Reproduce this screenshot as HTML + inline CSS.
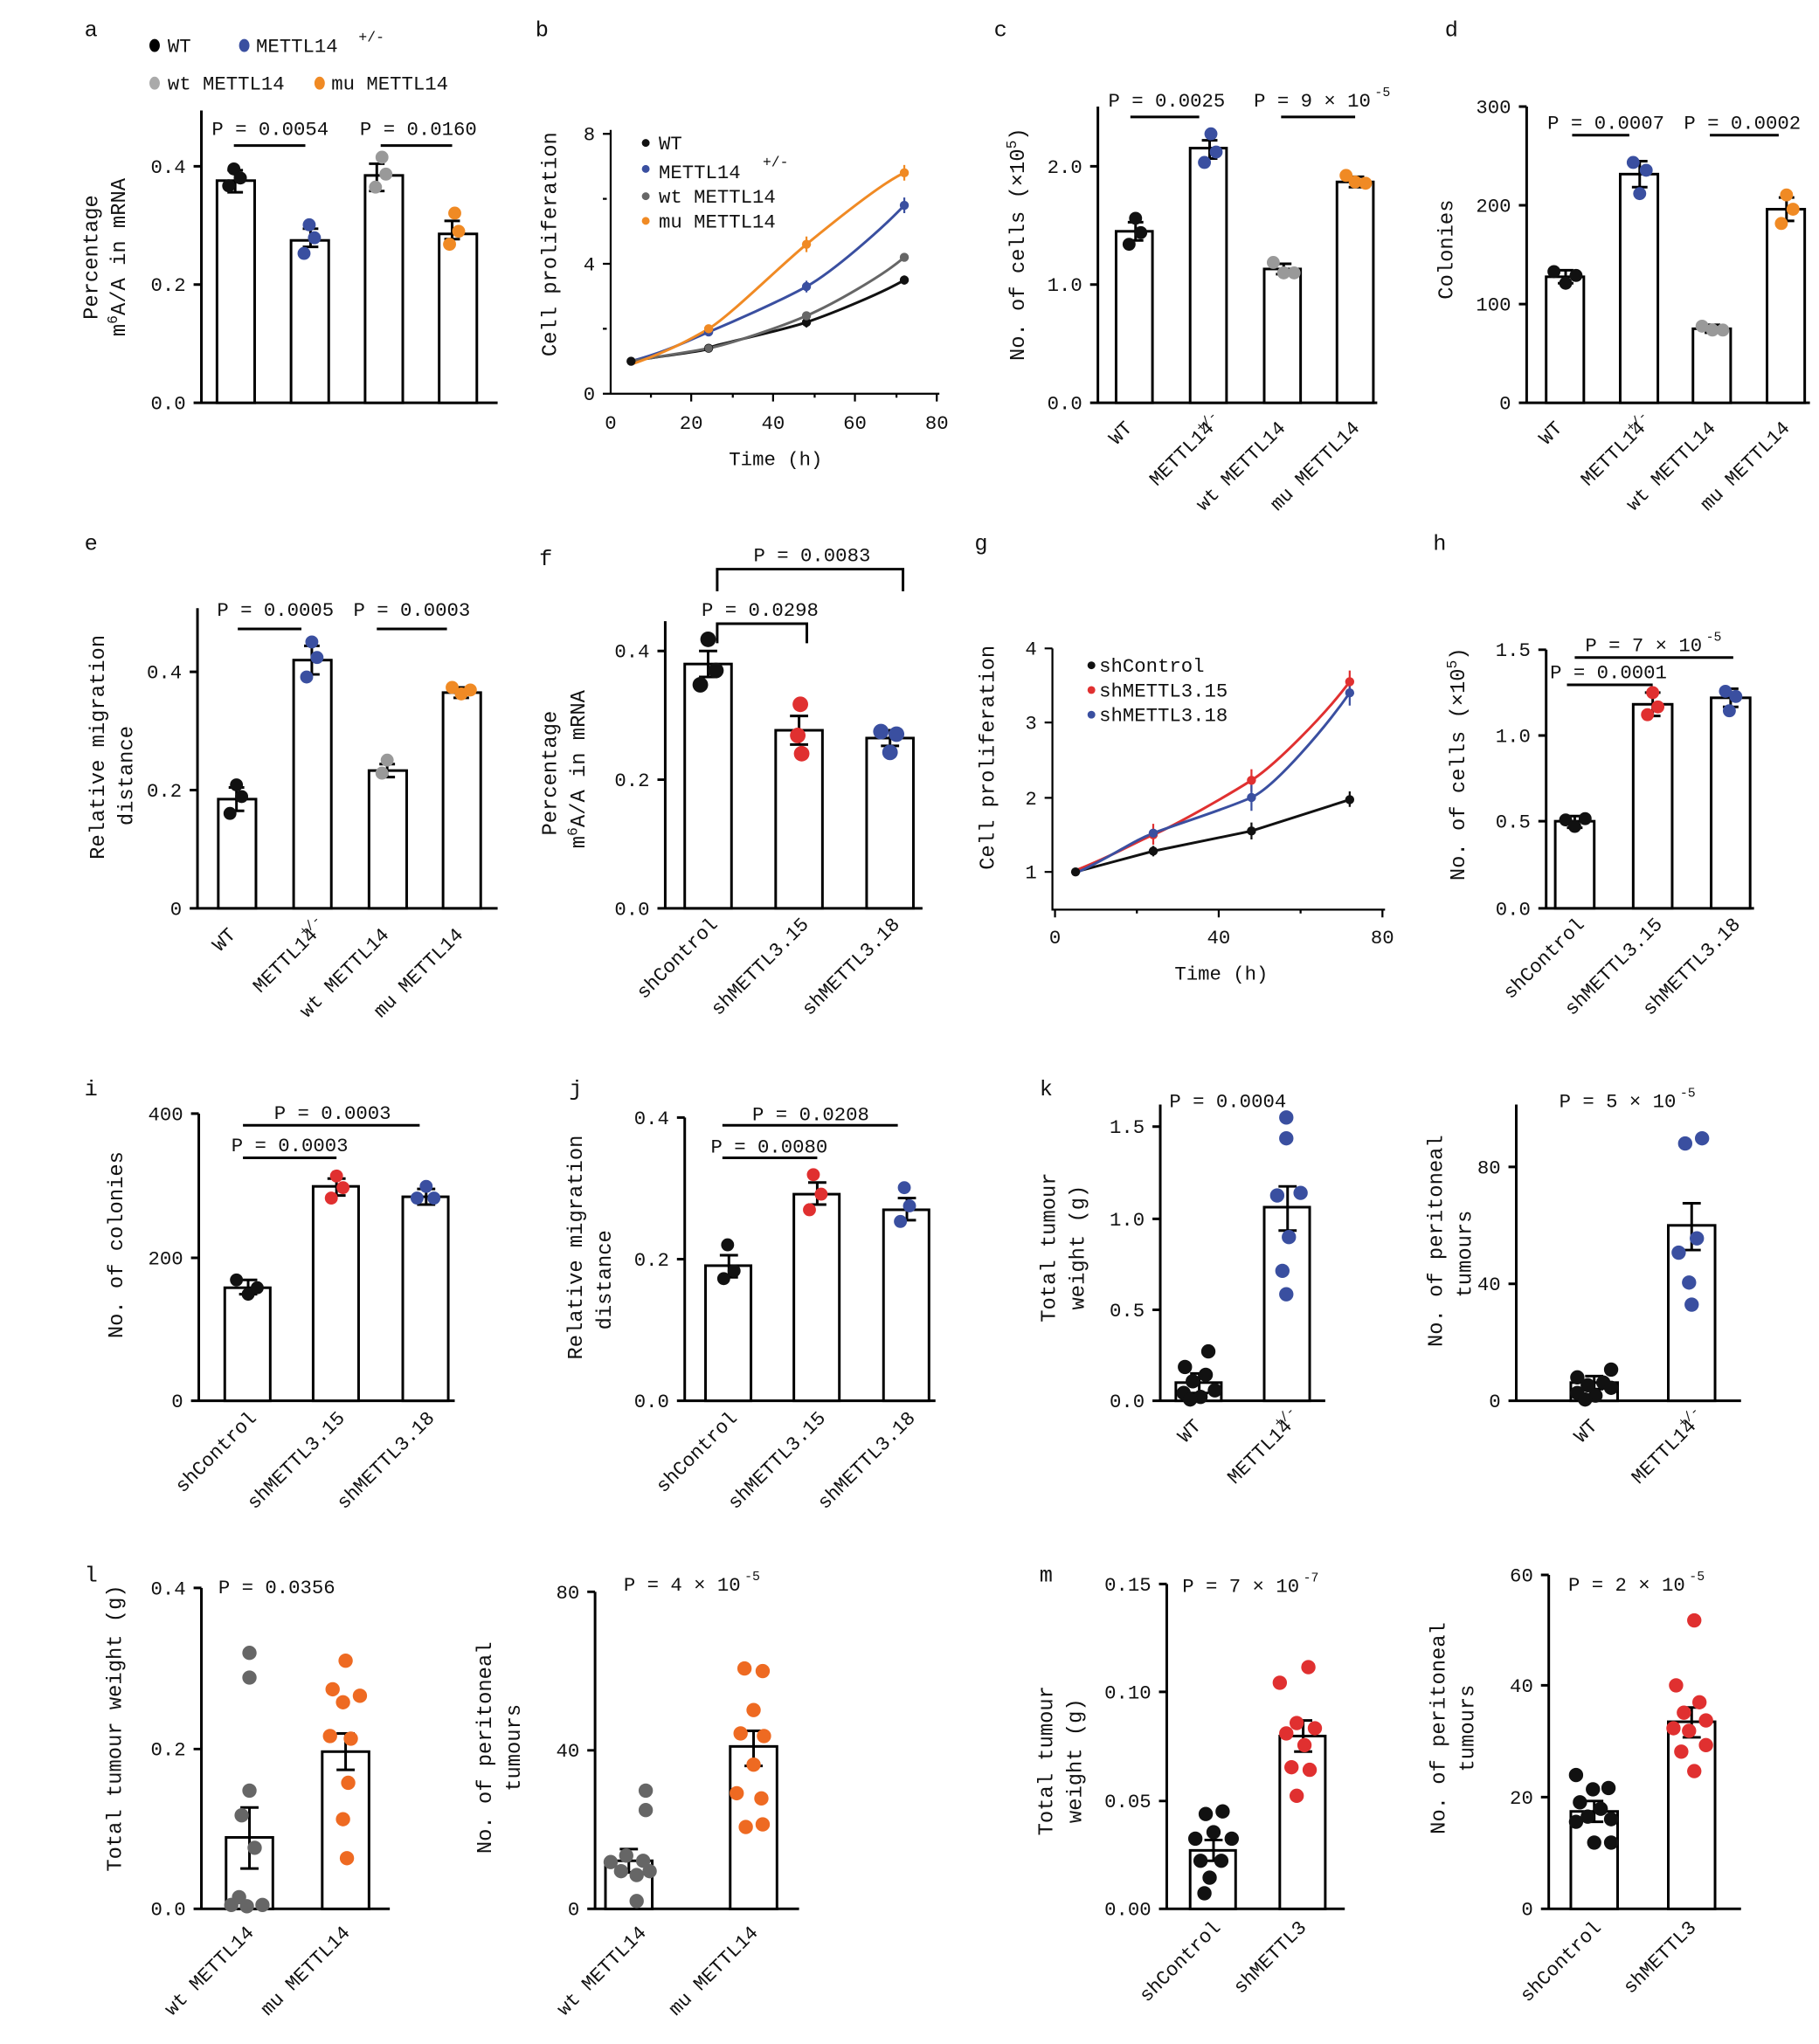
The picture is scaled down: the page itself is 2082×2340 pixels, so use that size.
<!DOCTYPE html>
<html><head><meta charset="utf-8"><style>
html,body{margin:0;padding:0;background:#fff;}
svg{display:block;}
text{font-family:"Liberation Mono","Noto Serif CJK SC",monospace;fill:#111;}
</style></head><body>
<svg width="2082" height="2340" viewBox="0 0 1400 1573" preserveAspectRatio="none" xmlns="http://www.w3.org/2000/svg">
<rect width="1400" height="1573" fill="#fff"/>
<g font-size="17">
<text x="65" y="28">a</text><text x="412" y="28">b</text><text x="765" y="28">c</text><text x="1112" y="28">d</text>
<text x="65" y="423">e</text><text x="415" y="435">f</text><text x="750" y="423">g</text><text x="1103" y="423">h</text>
<text x="65" y="843">i</text><text x="438" y="843">j</text><text x="800" y="843">k</text>
<text x="65" y="1217">l</text><text x="800" y="1217">m</text>
</g>
<g stroke="#000" stroke-width="2" fill="none">
<!-- a -->
<path d="M155,85V310M149,310H383M149,128h6M149,219h6"/>
<rect x="167" y="139" width="29" height="171" fill="#fff"/><rect x="224" y="185" width="29" height="125" fill="#fff"/>
<rect x="281" y="135" width="29" height="175" fill="#fff"/><rect x="338" y="180" width="29" height="130" fill="#fff"/>
<path d="M175,131h12M181,131v17M175,148h12 M233,176h12M239,176v14M233,190h12 M284,126h12M290,126v21M284,147h12 M342,170h12M348,170v14M342,184h12"/>
<path d="M180,112h55M293,112h55"/>
<!-- b -->
<path d="M470,100V303h253M464,103h6M464,203h6M464,303h6M532,303v6M595,303v6M658,303v6M721,303v6M501,303v3M564,303v3M627,303v3M690,303v3M464,153h3M464,253h3" stroke-width="1.5"/>
<!-- c -->
<path d="M845,82V310M839,310H1060M839,128h6M839,219h6"/>
<rect x="859" y="178" width="28" height="132" fill="#fff"/><rect x="916" y="114" width="28" height="196" fill="#fff"/>
<rect x="973" y="207" width="28" height="103" fill="#fff"/><rect x="1029" y="140" width="28" height="170" fill="#fff"/>
<path d="M868,171h12M874,171v14M868,185h12 M925,108h12M931,108v14M925,122h12 M982,203h12M988,203v8M982,211h12 M1038,136h12M1044,136v8M1038,144h12"/>
<path d="M870,90h53M986,90h57"/>
<!-- d -->
<path d="M1175,82V310M1169,310H1393M1169,82h6M1169,158h6M1169,234h6"/>
<rect x="1190" y="213" width="29" height="97" fill="#fff"/><rect x="1247" y="134" width="29" height="176" fill="#fff"/>
<rect x="1303" y="253" width="29" height="57" fill="#fff"/><rect x="1360" y="161" width="29" height="149" fill="#fff"/>
<path d="M1199,208h12M1205,208v10M1199,218h12 M1256,124h12M1262,124v20M1256,144h12 M1312,250h12M1318,250v6M1312,256h12 M1369,152h12M1375,152v18M1369,170h12"/>
<path d="M1210,104h44M1316,104h53"/>
<!-- e -->
<path d="M152,468V699M146,699H383M146,517h6M146,608h6"/>
<rect x="168" y="615" width="29" height="84" fill="#fff"/><rect x="226" y="508" width="29" height="191" fill="#fff"/>
<rect x="284" y="593" width="29" height="106" fill="#fff"/><rect x="341" y="533" width="29" height="166" fill="#fff"/>
<path d="M176,606h12M182,606v18M176,624h12 M234,497h12M240,497v22M234,519h12 M292,588h12M298,588v10M292,598h12 M349,529h12M355,529v8M349,537h12"/>
<path d="M183,484h49M290,484h54"/>
<!-- f -->
<path d="M512,478V699H710M506,501h6M506,600h6M506,699h6"/>
<rect x="527" y="511" width="36" height="188" fill="#fff"/><rect x="597" y="562" width="36" height="137" fill="#fff"/><rect x="667" y="568" width="36" height="131" fill="#fff"/>
<path d="M538,501h14M545,501v20M538,521h14 M608,551h14M615,551v22M608,573h14 M678,562h14M685,562v12M678,574h14"/>
<path d="M552,455V438H695V455M552,495V480H621V495"/>
<!-- g -->
<path d="M810,499V700H1066M804,499h6M804,556h6M804,614h6M804,671h6M812,700v6M938,700v6M1064,700v6M875,700v3M1001,700v3" stroke-width="1.5"/>
<!-- h -->
<path d="M1190,500V699H1350M1184,500h6M1184,566h6M1184,632h6M1184,699h6"/>
<rect x="1197" y="632" width="30" height="67" fill="#fff"/><rect x="1257" y="542" width="30" height="157" fill="#fff"/><rect x="1317" y="537" width="30" height="162" fill="#fff"/>
<path d="M1206,628h12M1212,628v9M1206,637h12 M1266,533h12M1272,533v18M1266,551h12 M1326,530h12M1332,530v14M1326,544h12"/>
<path d="M1212,506h122M1206,527h66"/>
<!-- i -->
<path d="M153,857V1078H350M147,857h6M147,968h6M147,1078h6"/>
<rect x="173" y="991" width="35" height="87" fill="#fff"/><rect x="241" y="913" width="35" height="165" fill="#fff"/><rect x="310" y="921" width="35" height="157" fill="#fff"/>
<path d="M184,985h14M191,985v11M184,996h14 M252,907h14M259,907v13M252,920h14 M321,915h14M328,915v12M321,927h14"/>
<path d="M187,866h136M187,891h72"/>
<!-- j -->
<path d="M527,860V1078H720M521,860h6M521,969h6M521,1078h6"/>
<rect x="543" y="974" width="35" height="104" fill="#fff"/><rect x="611" y="919" width="35" height="159" fill="#fff"/><rect x="680" y="931" width="35" height="147" fill="#fff"/>
<path d="M554,966h14M561,966v17M554,983h14 M622,910h14M629,910v17M622,927h14 M691,922h14M698,922v17M691,939h14"/>
<path d="M556,866h135M556,891h73"/>
<!-- k1 -->
<path d="M893,850V1078H1020M887,867h6M887,938h6M887,1008h6M887,1078h6"/>
<rect x="905" y="1064" width="35" height="14" fill="#fff"/><rect x="973" y="929" width="35" height="149" fill="#fff"/>
<path d="M916,1057h14M923,1057v15M916,1072h14 M984,913h14M991,913v34M984,947h14"/>
<!-- k2 -->
<path d="M1167,850V1078H1340M1161,898h6M1161,988h6M1161,1078h6"/>
<rect x="1209" y="1064" width="36" height="14" fill="#fff"/><rect x="1284" y="943" width="36" height="135" fill="#fff"/>
<path d="M1220,1059h14M1227,1059v10M1220,1069h14 M1295,926h14M1302,926v36M1295,962h14"/>
<!-- l1 -->
<path d="M155,1222V1469H300M149,1222h6M149,1346h6M149,1469h6"/>
<rect x="174" y="1414" width="36" height="55" fill="#fff"/><rect x="248" y="1348" width="36" height="121" fill="#fff"/>
<path d="M185,1391h14M192,1391v47M185,1438h14 M259,1334h14M266,1334v28M259,1362h14"/>
<!-- l2 -->
<path d="M458,1225V1469H615M452,1225h6M452,1347h6M452,1469h6"/>
<rect x="466" y="1432" width="36" height="37" fill="#fff"/><rect x="562" y="1344" width="36" height="125" fill="#fff"/>
<path d="M477,1423h14M484,1423v18M477,1441h14 M573,1332h14M580,1332v27M573,1359h14"/>
<!-- m1 -->
<path d="M898,1219V1469H1035M892,1219h6M892,1302h6M892,1386h6M892,1469h6"/>
<rect x="916" y="1424" width="35" height="45" fill="#fff"/><rect x="985" y="1336" width="35" height="133" fill="#fff"/>
<path d="M927,1416h14M934,1416v16M927,1432h14 M996,1324h14M1003,1324v24M996,1348h14"/>
<!-- m2 -->
<path d="M1192,1212V1469H1340M1186,1212h6M1186,1297h6M1186,1383h6M1186,1469h6"/>
<rect x="1209" y="1394" width="36" height="75" fill="#fff"/><rect x="1284" y="1325" width="36" height="144" fill="#fff"/>
<path d="M1220,1386h14M1227,1386v16M1220,1402h14 M1295,1314h14M1302,1314v23M1295,1337h14"/>
</g>
<!-- curves b -->
<g fill="none" stroke-width="2">
<path d="M485.7,278 C515,273 545,270 545.4,268 S600,255 620.7,248 S680,225 696,215.5" stroke="#111"/>
<path d="M485.7,278 C515,270 530,262 545.4,255.5 S600,232 620.7,220.5 S680,175 696,158" stroke="#3a4fa0"/>
<path d="M485.7,278 C515,273 530,271 545.4,268 S600,252 620.7,243 S680,212 696,198" stroke="#666"/>
<path d="M485.7,280.5 C515,270 530,262 545.4,253 S600,205 620.7,188 S680,140 696,133" stroke="#f08a24"/>
<path d="M827.8,671 L887.6,655 L963.2,639.5 L1038.8,615.4" stroke="#111"/>
<path d="M827.8,669.9 C860,657 870,650 887.6,642.4 S945,612 963.2,600.5 S1020,550 1038.8,524.6" stroke="#e03030"/>
<path d="M827.8,672 C860,657 870,648 887.6,641.2 S945,622 963.2,613.7 S1020,560 1038.8,533.2" stroke="#3a4fa0"/>
</g>
<g stroke-width="1.5" fill="none">
<path d="M620.7,244v8M696,212v7M545.4,265v6" stroke="#111"/>
<path d="M620.7,216v9M696,152v12" stroke="#3a4fa0"/>
<path d="M620.7,182v12M696,127v12" stroke="#f08a24"/>
<path d="M963.2,633v13M1038.8,609v12M887.6,651v8" stroke="#111"/>
<path d="M963.2,592v17M1038.8,516v17M887.6,634v16" stroke="#e03030"/>
<path d="M963.2,604v20M1038.8,523v20" stroke="#3a4fa0"/>
</g>
<g>
<g fill="#111"><circle cx="485.7" cy="278" r="3.5"/><circle cx="545.4" cy="268" r="3.5"/><circle cx="620.7" cy="248" r="3.5"/><circle cx="696" cy="215.5" r="3.5"/></g>
<g fill="#3a4fa0"><circle cx="545.4" cy="255.5" r="3.5"/><circle cx="620.7" cy="220.5" r="3.5"/><circle cx="696" cy="158" r="3.5"/></g>
<g fill="#666"><circle cx="545.4" cy="268" r="3"/><circle cx="620.7" cy="243" r="3.5"/><circle cx="696" cy="198" r="3.5"/></g>
<g fill="#f08a24"><circle cx="545.4" cy="253" r="3.5"/><circle cx="620.7" cy="188" r="3.5"/><circle cx="696" cy="133" r="3.5"/></g>
<g fill="#111"><circle cx="827.8" cy="671" r="3.5"/><circle cx="887.6" cy="655" r="3.5"/><circle cx="963.2" cy="639.5" r="3.5"/><circle cx="1038.8" cy="615.4" r="3.5"/></g>
<g fill="#e03030"><circle cx="887.6" cy="642.4" r="3.5"/><circle cx="963.2" cy="600.5" r="3.5"/><circle cx="1038.8" cy="524.6" r="3.5"/></g>
<g fill="#3a4fa0"><circle cx="887.6" cy="641.2" r="3.5"/><circle cx="963.2" cy="613.7" r="3.5"/><circle cx="1038.8" cy="533.2" r="3.5"/></g>
</g>
<!-- dots bar panels -->
<g>
<g fill="#111"><circle cx="180" cy="130" r="5"/><circle cx="176" cy="143" r="5"/><circle cx="185" cy="137" r="5"/></g>
<g fill="#3a4fa0"><circle cx="238" cy="173" r="5"/><circle cx="242" cy="183" r="5"/><circle cx="234" cy="195" r="5"/></g>
<g fill="#999"><circle cx="294" cy="121" r="5"/><circle cx="297" cy="134" r="5"/><circle cx="289" cy="144" r="5"/></g>
<g fill="#f08a24"><circle cx="350" cy="164" r="5"/><circle cx="353" cy="178" r="5"/><circle cx="346" cy="188" r="5"/></g>
<g fill="#111"><circle cx="874" cy="168" r="5"/><circle cx="869" cy="188" r="5"/><circle cx="878" cy="179" r="5"/></g>
<g fill="#3a4fa0"><circle cx="932" cy="103" r="5"/><circle cx="936" cy="117" r="5"/><circle cx="927" cy="125" r="5"/></g>
<g fill="#999"><circle cx="980" cy="202" r="5"/><circle cx="988" cy="210" r="5"/><circle cx="996" cy="210" r="5"/></g>
<g fill="#f08a24"><circle cx="1036" cy="135" r="5"/><circle cx="1043" cy="140" r="5"/><circle cx="1051" cy="141" r="5"/></g>
<g fill="#111"><circle cx="1196" cy="209" r="5"/><circle cx="1205" cy="218" r="5"/><circle cx="1213" cy="212" r="5"/></g>
<g fill="#3a4fa0"><circle cx="1257" cy="125" r="5"/><circle cx="1267" cy="131" r="5"/><circle cx="1262" cy="149" r="5"/></g>
<g fill="#999"><circle cx="1310" cy="251" r="5"/><circle cx="1318" cy="254" r="5"/><circle cx="1326" cy="254" r="5"/></g>
<g fill="#f08a24"><circle cx="1375" cy="150" r="5"/><circle cx="1380" cy="161" r="5"/><circle cx="1371" cy="172" r="5"/></g>
<g fill="#111"><circle cx="182" cy="604" r="5"/><circle cx="186" cy="613" r="5"/><circle cx="177" cy="626" r="5"/></g>
<g fill="#3a4fa0"><circle cx="240" cy="494" r="5"/><circle cx="244" cy="506" r="5"/><circle cx="236" cy="521" r="5"/></g>
<g fill="#999"><circle cx="298" cy="585" r="5"/><circle cx="294" cy="595" r="5"/></g>
<g fill="#f08a24"><circle cx="348" cy="529" r="5"/><circle cx="355" cy="534" r="5"/><circle cx="362" cy="531" r="5"/></g>
<g fill="#111"><circle cx="545" cy="492" r="6"/><circle cx="539" cy="527" r="6"/><circle cx="551" cy="516" r="6"/></g>
<g fill="#e03030"><circle cx="616" cy="542" r="6"/><circle cx="614" cy="566" r="6"/><circle cx="617" cy="580" r="6"/></g>
<g fill="#3a4fa0"><circle cx="678" cy="563" r="6"/><circle cx="690" cy="565" r="6"/><circle cx="685" cy="579" r="6"/></g>
<g fill="#111"><circle cx="1205" cy="631" r="5"/><circle cx="1212" cy="636" r="5"/><circle cx="1220" cy="630" r="5"/></g>
<g fill="#e03030"><circle cx="1272" cy="533" r="5"/><circle cx="1276" cy="544" r="5"/><circle cx="1268" cy="550" r="5"/></g>
<g fill="#3a4fa0"><circle cx="1328" cy="532" r="5"/><circle cx="1336" cy="536" r="5"/><circle cx="1331" cy="547" r="5"/></g>
<g fill="#111"><circle cx="182" cy="985" r="5"/><circle cx="191" cy="996" r="5"/><circle cx="198" cy="991" r="5"/></g>
<g fill="#e03030"><circle cx="259" cy="905" r="5"/><circle cx="264" cy="914" r="5"/><circle cx="255" cy="922" r="5"/></g>
<g fill="#3a4fa0"><circle cx="321" cy="922" r="5"/><circle cx="328" cy="913" r="5"/><circle cx="334" cy="922" r="5"/></g>
<g fill="#111"><circle cx="560" cy="958" r="5"/><circle cx="565" cy="978" r="5"/><circle cx="557" cy="984" r="5"/></g>
<g fill="#e03030"><circle cx="626" cy="904" r="5"/><circle cx="632" cy="919" r="5"/><circle cx="623" cy="931" r="5"/></g>
<g fill="#3a4fa0"><circle cx="696" cy="914" r="5"/><circle cx="700" cy="928" r="5"/><circle cx="693" cy="940" r="5"/></g>
<g fill="#111"><circle cx="912" cy="1052" r="5.5"/><circle cx="930" cy="1040" r="5.5"/><circle cx="918" cy="1063" r="5.5"/><circle cx="928" cy="1058" r="5.5"/><circle cx="911" cy="1072" r="5.5"/><circle cx="924" cy="1075" r="5.5"/><circle cx="935" cy="1070" r="5.5"/><circle cx="916" cy="1077" r="5.5"/></g>
<g fill="#3a4fa0"><circle cx="990" cy="860" r="5.5"/><circle cx="990" cy="876" r="5.5"/><circle cx="1001" cy="918" r="5.5"/><circle cx="983" cy="920" r="5.5"/><circle cx="992" cy="952" r="5.5"/><circle cx="987" cy="978" r="5.5"/><circle cx="990" cy="996" r="5.5"/></g>
<g fill="#111"><circle cx="1214" cy="1060" r="5.5"/><circle cx="1240" cy="1054" r="5.5"/><circle cx="1222" cy="1066" r="5.5"/><circle cx="1234" cy="1064" r="5.5"/><circle cx="1214" cy="1072" r="5.5"/><circle cx="1228" cy="1074" r="5.5"/><circle cx="1240" cy="1068" r="5.5"/><circle cx="1220" cy="1077" r="5.5"/></g>
<g fill="#3a4fa0"><circle cx="1297" cy="880" r="5.5"/><circle cx="1310" cy="876" r="5.5"/><circle cx="1306" cy="953" r="5.5"/><circle cx="1292" cy="964" r="5.5"/><circle cx="1300" cy="987" r="5.5"/><circle cx="1302" cy="1004" r="5.5"/></g>
<g fill="#666"><circle cx="192" cy="1272" r="5.5"/><circle cx="192" cy="1291" r="5.5"/><circle cx="192" cy="1378" r="5.5"/><circle cx="186" cy="1397" r="5.5"/><circle cx="196" cy="1422" r="5.5"/><circle cx="178" cy="1466" r="5.5"/><circle cx="190" cy="1467" r="5.5"/><circle cx="202" cy="1466" r="5.5"/><circle cx="184" cy="1460" r="5.5"/></g>
<g fill="#ee6a22"><circle cx="266" cy="1278" r="5.5"/><circle cx="256" cy="1300" r="5.5"/><circle cx="277" cy="1305" r="5.5"/><circle cx="264" cy="1310" r="5.5"/><circle cx="254" cy="1336" r="5.5"/><circle cx="270" cy="1338" r="5.5"/><circle cx="268" cy="1372" r="5.5"/><circle cx="264" cy="1400" r="5.5"/><circle cx="267" cy="1430" r="5.5"/></g>
<g fill="#666"><circle cx="497" cy="1378" r="5.5"/><circle cx="497" cy="1393" r="5.5"/><circle cx="470" cy="1433" r="5.5"/><circle cx="482" cy="1428" r="5.5"/><circle cx="495" cy="1432" r="5.5"/><circle cx="478" cy="1440" r="5.5"/><circle cx="490" cy="1443" r="5.5"/><circle cx="500" cy="1440" r="5.5"/><circle cx="490" cy="1463" r="5.5"/></g>
<g fill="#ee6a22"><circle cx="573" cy="1284" r="5.5"/><circle cx="587" cy="1286" r="5.5"/><circle cx="580" cy="1316" r="5.5"/><circle cx="570" cy="1334" r="5.5"/><circle cx="588" cy="1336" r="5.5"/><circle cx="580" cy="1358" r="5.5"/><circle cx="567" cy="1380" r="5.5"/><circle cx="586" cy="1384" r="5.5"/><circle cx="574" cy="1406" r="5.5"/><circle cx="587" cy="1404" r="5.5"/></g>
<g fill="#111"><circle cx="928" cy="1396" r="5.5"/><circle cx="941" cy="1394" r="5.5"/><circle cx="920" cy="1415" r="5.5"/><circle cx="934" cy="1410" r="5.5"/><circle cx="948" cy="1415" r="5.5"/><circle cx="924" cy="1432" r="5.5"/><circle cx="940" cy="1432" r="5.5"/><circle cx="931" cy="1445" r="5.5"/><circle cx="927" cy="1457" r="5.5"/></g>
<g fill="#e03030"><circle cx="1007" cy="1283" r="5.5"/><circle cx="985" cy="1295" r="5.5"/><circle cx="998" cy="1326" r="5.5"/><circle cx="1012" cy="1330" r="5.5"/><circle cx="990" cy="1334" r="5.5"/><circle cx="1004" cy="1343" r="5.5"/><circle cx="994" cy="1360" r="5.5"/><circle cx="1008" cy="1362" r="5.5"/><circle cx="998" cy="1382" r="5.5"/></g>
<g fill="#111"><circle cx="1213" cy="1366" r="5.5"/><circle cx="1238" cy="1376" r="5.5"/><circle cx="1226" cy="1377" r="5.5"/><circle cx="1216" cy="1387" r="5.5"/><circle cx="1232" cy="1392" r="5.5"/><circle cx="1222" cy="1398" r="5.5"/><circle cx="1240" cy="1400" r="5.5"/><circle cx="1213" cy="1402" r="5.5"/><circle cx="1227" cy="1418" r="5.5"/><circle cx="1240" cy="1418" r="5.5"/></g>
<g fill="#e03030"><circle cx="1304" cy="1247" r="5.5"/><circle cx="1290" cy="1297" r="5.5"/><circle cx="1308" cy="1310" r="5.5"/><circle cx="1296" cy="1318" r="5.5"/><circle cx="1313" cy="1324" r="5.5"/><circle cx="1288" cy="1330" r="5.5"/><circle cx="1300" cy="1332" r="5.5"/><circle cx="1313" cy="1343" r="5.5"/><circle cx="1294" cy="1348" r="5.5"/><circle cx="1304" cy="1363" r="5.5"/></g>
</g>
<!-- legends -->
<g font-size="15">
<ellipse cx="119" cy="35" rx="4" ry="5" fill="#000"/><text x="129" y="40">WT</text>
<ellipse cx="188" cy="35" rx="4" ry="5" fill="#3a4fa0"/><text x="197" y="40">METTL14</text><text x="276" y="32" font-size="11">+/-</text>
<ellipse cx="119" cy="64" rx="4" ry="5" fill="#aaa"/><text x="129" y="69">wt METTL14</text>
<ellipse cx="246" cy="64" rx="4" ry="5" fill="#f08a24"/><text x="255" y="69">mu METTL14</text>
<circle cx="497" cy="110" r="3" fill="#111"/><text x="507" y="115">WT</text>
<circle cx="497" cy="130" r="3" fill="#3a4fa0"/><text x="507" y="137">METTL14</text><text x="587" y="128" font-size="11">+/-</text>
<circle cx="497" cy="151" r="3" fill="#666"/><text x="507" y="156">wt METTL14</text>
<circle cx="497" cy="170" r="3" fill="#f08a24"/><text x="507" y="175">mu  METTL14</text>
<circle cx="840" cy="512" r="3" fill="#111"/><text x="846" y="517">shControl</text>
<circle cx="840" cy="531" r="3" fill="#e03030"/><text x="846" y="536">shMETTL3.15</text>
<circle cx="840" cy="550" r="3" fill="#3a4fa0"/><text x="846" y="555">shMETTL3.18</text>
</g>
<!-- tick labels -->
<g font-size="15" text-anchor="end">
<text x="143" y="133">0.4</text><text x="143" y="224">0.2</text><text x="143" y="315">0.0</text>
<text x="458" y="108">8</text><text x="458" y="208">4</text><text x="458" y="308">0</text>
<text x="833" y="133">2.0</text><text x="833" y="224">1.0</text><text x="833" y="315">0.0</text>
<text x="1163" y="87">300</text><text x="1163" y="163">200</text><text x="1163" y="239">100</text><text x="1163" y="315">0</text>
<text x="140" y="522">0.4</text><text x="140" y="613">0.2</text><text x="140" y="704">0</text>
<text x="500" y="506">0.4</text><text x="500" y="605">0.2</text><text x="500" y="704">0.0</text>
<text x="798" y="504">4</text><text x="798" y="561">3</text><text x="798" y="619">2</text><text x="798" y="676">1</text>
<text x="1178" y="505">1.5</text><text x="1178" y="571">1.0</text><text x="1178" y="637">0.5</text><text x="1178" y="704">0.0</text>
<text x="141" y="862">400</text><text x="141" y="973">200</text><text x="141" y="1083">0</text>
<text x="515" y="865">0.4</text><text x="515" y="974">0.2</text><text x="515" y="1083">0.0</text>
<text x="881" y="872">1.5</text><text x="881" y="943">1.0</text><text x="881" y="1013">0.5</text><text x="881" y="1083">0.0</text>
<text x="1155" y="903">80</text><text x="1155" y="993">40</text><text x="1155" y="1083">0</text>
<text x="143" y="1227">0.4</text><text x="143" y="1351">0.2</text><text x="143" y="1474">0.0</text>
<text x="446" y="1230">80</text><text x="446" y="1352">40</text><text x="446" y="1474">0</text>
<text x="886" y="1224">0.15</text><text x="886" y="1307">0.10</text><text x="886" y="1391">0.05</text><text x="886" y="1474">0.00</text>
<text x="1180" y="1217">60</text><text x="1180" y="1302">40</text><text x="1180" y="1388">20</text><text x="1180" y="1474">0</text>
</g>
<g font-size="15" text-anchor="middle">
<text x="470" y="330">0</text><text x="532" y="330">20</text><text x="595" y="330">40</text><text x="658" y="330">60</text><text x="721" y="330">80</text>
<text x="597" y="358">Time (h)</text>
<text x="812" y="726">0</text><text x="938" y="726">40</text><text x="1064" y="726">80</text>
<text x="940" y="754">Time (h)</text>
</g>
<!-- P values -->
<g font-size="15">
<text x="163" y="104">P = 0.0054</text><text x="277" y="104">P = 0.0160</text>
<text x="853" y="82">P = 0.0025</text><text x="965" y="82">P = 9 × 10</text><text x="1058" y="74" font-size="10">-5</text>
<text x="1191" y="99">P = 0.0007</text><text x="1296" y="99">P = 0.0002</text>
<text x="167" y="474">P = 0.0005</text><text x="272" y="474">P = 0.0003</text>
<text x="580" y="432">P = 0.0083</text><text x="540" y="474">P = 0.0298</text>
<text x="1220" y="501">P = 7 × 10</text><text x="1313" y="493" font-size="10">-5</text><text x="1193" y="522">P = 0.0001</text>
<text x="211" y="861">P = 0.0003</text><text x="178" y="886">P = 0.0003</text>
<text x="579" y="862">P = 0.0208</text><text x="547" y="887">P = 0.0080</text>
<text x="900" y="852">P = 0.0004</text>
<text x="1200" y="852">P = 5 × 10</text><text x="1293" y="844" font-size="10">-5</text>
<text x="168" y="1226">P = 0.0356</text>
<text x="480" y="1224">P = 4 × 10</text><text x="573" y="1216" font-size="10">-5</text>
<text x="910" y="1225">P = 7 × 10</text><text x="1003" y="1217" font-size="10">-7</text>
<text x="1207" y="1224">P = 2 × 10</text><text x="1300" y="1216" font-size="10">-5</text>
</g>
<!-- y-axis titles -->
<g font-size="16" text-anchor="middle">
<text transform="translate(75,198) rotate(-90)">Percentage</text>
<text transform="translate(96,198) rotate(-90)">m<tspan dy="-6" font-size="11">6</tspan><tspan dy="6">A/A in mRNA</tspan></text>
<text transform="translate(428,188) rotate(-90)">Cell proliferation</text>
<text transform="translate(788,188) rotate(-90)">No. of cells (×10<tspan dy="-6" font-size="11">5</tspan><tspan dy="6">)</tspan></text>
<text transform="translate(1118,192) rotate(-90)">Colonies</text>
<text transform="translate(80,575) rotate(-90)">Relative migration</text>
<text transform="translate(102,597) rotate(-90)">distance</text>
<text transform="translate(428,595) rotate(-90)">Percentage</text>
<text transform="translate(450,592) rotate(-90)">m<tspan dy="-6" font-size="11">6</tspan><tspan dy="6">A/A in mRNA</tspan></text>
<text transform="translate(765,583) rotate(-90)">Cell proliferation</text>
<text transform="translate(1127,588) rotate(-90)">No. of cells (×10<tspan dy="-6" font-size="11">5</tspan><tspan dy="6">)</tspan></text>
<text transform="translate(94,958) rotate(-90)">No. of colonies</text>
<text transform="translate(448,960) rotate(-90)">Relative migration</text>
<text transform="translate(470,985) rotate(-90)">distance</text>
<text transform="translate(812,960) rotate(-90)">Total tumour</text>
<text transform="translate(834,960) rotate(-90)">weight (g)</text>
<text transform="translate(1110,955) rotate(-90)">No. of peritoneal</text>
<text transform="translate(1132,965) rotate(-90)">tumours</text>
<text transform="translate(93,1330) rotate(-90)">Total tumour weight (g)</text>
<text transform="translate(378,1345) rotate(-90)">No. of peritoneal</text>
<text transform="translate(400,1345) rotate(-90)">tumours</text>
<text transform="translate(810,1355) rotate(-90)">Total tumour</text>
<text transform="translate(832,1355) rotate(-90)">weight (g)</text>
<text transform="translate(1112,1330) rotate(-90)">No. of peritoneal</text>
<text transform="translate(1134,1330) rotate(-90)">tumours</text>
</g>
<!-- x labels rotated -->
<g font-size="15" text-anchor="end">
<text transform="translate(872,330) rotate(-45)">WT</text>
<text transform="translate(935,330) rotate(-45)">METTL14</text><text transform="translate(937,320) rotate(-45)" font-size="10">+/-</text>
<text transform="translate(990,330) rotate(-45)">wt METTL14</text>
<text transform="translate(1047,330) rotate(-45)">mu METTL14</text>
<text transform="translate(1203,330) rotate(-45)">WT</text>
<text transform="translate(1267,330) rotate(-45)">METTL14</text><text transform="translate(1268,320) rotate(-45)" font-size="10">+/-</text>
<text transform="translate(1321,330) rotate(-45)">wt METTL14</text>
<text transform="translate(1378,330) rotate(-45)">mu METTL14</text>
<text transform="translate(182,720) rotate(-45)">WT</text>
<text transform="translate(245,720) rotate(-45)">METTL14</text><text transform="translate(247,708) rotate(-45)" font-size="10">+/-</text>
<text transform="translate(300,720) rotate(-45)">wt METTL14</text>
<text transform="translate(357,720) rotate(-45)">mu METTL14</text>
<text transform="translate(553,712) rotate(-45)">shControl</text>
<text transform="translate(623,712) rotate(-45)">shMETTL3.15</text>
<text transform="translate(693,712) rotate(-45)">shMETTL3.18</text>
<text transform="translate(1220,712) rotate(-45)">shControl</text>
<text transform="translate(1280,712) rotate(-45)">shMETTL3.15</text>
<text transform="translate(1340,712) rotate(-45)">shMETTL3.18</text>
<text transform="translate(198,1092) rotate(-45)">shControl</text>
<text transform="translate(266,1092) rotate(-45)">shMETTL3.15</text>
<text transform="translate(335,1092) rotate(-45)">shMETTL3.18</text>
<text transform="translate(568,1092) rotate(-45)">shControl</text>
<text transform="translate(636,1092) rotate(-45)">shMETTL3.15</text>
<text transform="translate(705,1092) rotate(-45)">shMETTL3.18</text>
<text transform="translate(925,1098) rotate(-45)">WT</text>
<text transform="translate(995,1098) rotate(-45)">METTL14</text><text transform="translate(997,1086) rotate(-45)" font-size="10">+/-</text>
<text transform="translate(1230,1098) rotate(-45)">WT</text>
<text transform="translate(1306,1098) rotate(-45)">METTL14</text><text transform="translate(1308,1086) rotate(-45)" font-size="10">+/-</text>
<text transform="translate(196,1488) rotate(-45)">wt METTL14</text>
<text transform="translate(270,1488) rotate(-45)">mu METTL14</text>
<text transform="translate(498,1488) rotate(-45)">wt METTL14</text>
<text transform="translate(584,1488) rotate(-45)">mu METTL14</text>
<text transform="translate(940,1484) rotate(-45)">shControl</text>
<text transform="translate(1006,1484) rotate(-45)">shMETTL3</text>
<text transform="translate(1233,1484) rotate(-45)">shControl</text>
<text transform="translate(1306,1484) rotate(-45)">shMETTL3</text>
</g>
</svg>
</body></html>
